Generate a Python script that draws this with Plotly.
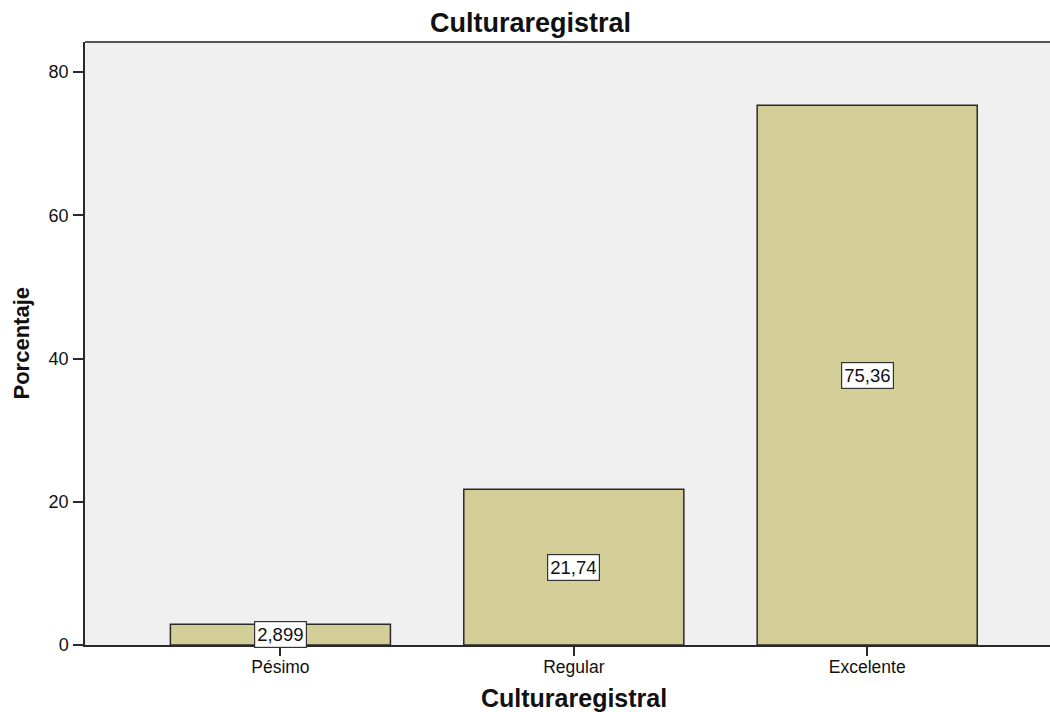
import plotly.graph_objects as go

categories = ["Pésimo", "Regular", "Excelente"]
values = [2.899, 21.74, 75.36]
labels = ["2,899", "21,74", "75,36"]
y_ticks = [0, 20, 40, 60, 80]

FONT = "Liberation Sans, Arial"

fig = go.Figure()
fig.add_trace(go.Bar(
    x=categories, y=values, width=0.75,
    marker=dict(color="#d3ce97", line=dict(color="#2a2a2a", width=1.5)),
    hoverinfo="skip",
))

for c, v, t in zip(categories, values, labels):
    fig.add_annotation(x=c, y=v / 2, text=t, showarrow=False,
                       bgcolor="white", bordercolor="#333333", borderwidth=1.2,
                       borderpad=2, font=dict(size=18.5, color="#111111", family=FONT))

fig.update_layout(
    width=1050, height=712,
    margin=dict(l=85, r=0, t=42, b=67),
    paper_bgcolor="white", plot_bgcolor="#f0f0f0",
    showlegend=False,
    font=dict(family=FONT, color="#111111", size=17),
)
fig.update_xaxes(
    type="category", range=[-0.666, 2.623],
    showline=True, linecolor="#2a2a2a", linewidth=1.5,
    ticks="outside", ticklen=9, tickcolor="#2a2a2a", tickwidth=1.5,
    ticklabelstandoff=-4,
    showgrid=False, zeroline=False, tickfont=dict(size=17.5),
)
fig.update_yaxes(
    range=[0, 84.2], tickvals=y_ticks,
    showline=True, linecolor="#2a2a2a", linewidth=1.5, mirror=False,
    ticks="outside", ticklen=10, tickcolor="#2a2a2a", tickwidth=1.5,
    ticklabelstandoff=1,
    showgrid=False, zeroline=False, tickfont=dict(size=18),
)
# top frame line
fig.add_shape(type="line", xref="paper", yref="paper", x0=0, x1=1, y0=1, y1=1,
              line=dict(color="#555555", width=2))

fig.add_annotation(xref="paper", yref="paper", x=(530 - 85) / 965, y=1 + (42 - 23) / 603,
                   text="<b>Culturaregistral</b>", showarrow=False,
                   xanchor="center", yanchor="middle",
                   font=dict(size=27, color="#111111", family=FONT))
fig.add_annotation(xref="paper", yref="paper", x=(574 - 85) / 965, y=-(698 - 645) / 603,
                   text="<b>Culturaregistral</b>", showarrow=False,
                   xanchor="center", yanchor="middle",
                   font=dict(size=25, color="#111111", family=FONT))
fig.add_annotation(xref="paper", yref="paper", x=-(85 - 21) / 965, y=0.5,
                   text="<b>Porcentaje</b>", showarrow=False, textangle=-90,
                   xanchor="center", yanchor="middle",
                   font=dict(size=22, color="#111111", family=FONT))

fig.write_html("out.html", config={"displayModeBar": False},
               post_script="document.body.style.margin='0';document.body.style.overflow='hidden';")
